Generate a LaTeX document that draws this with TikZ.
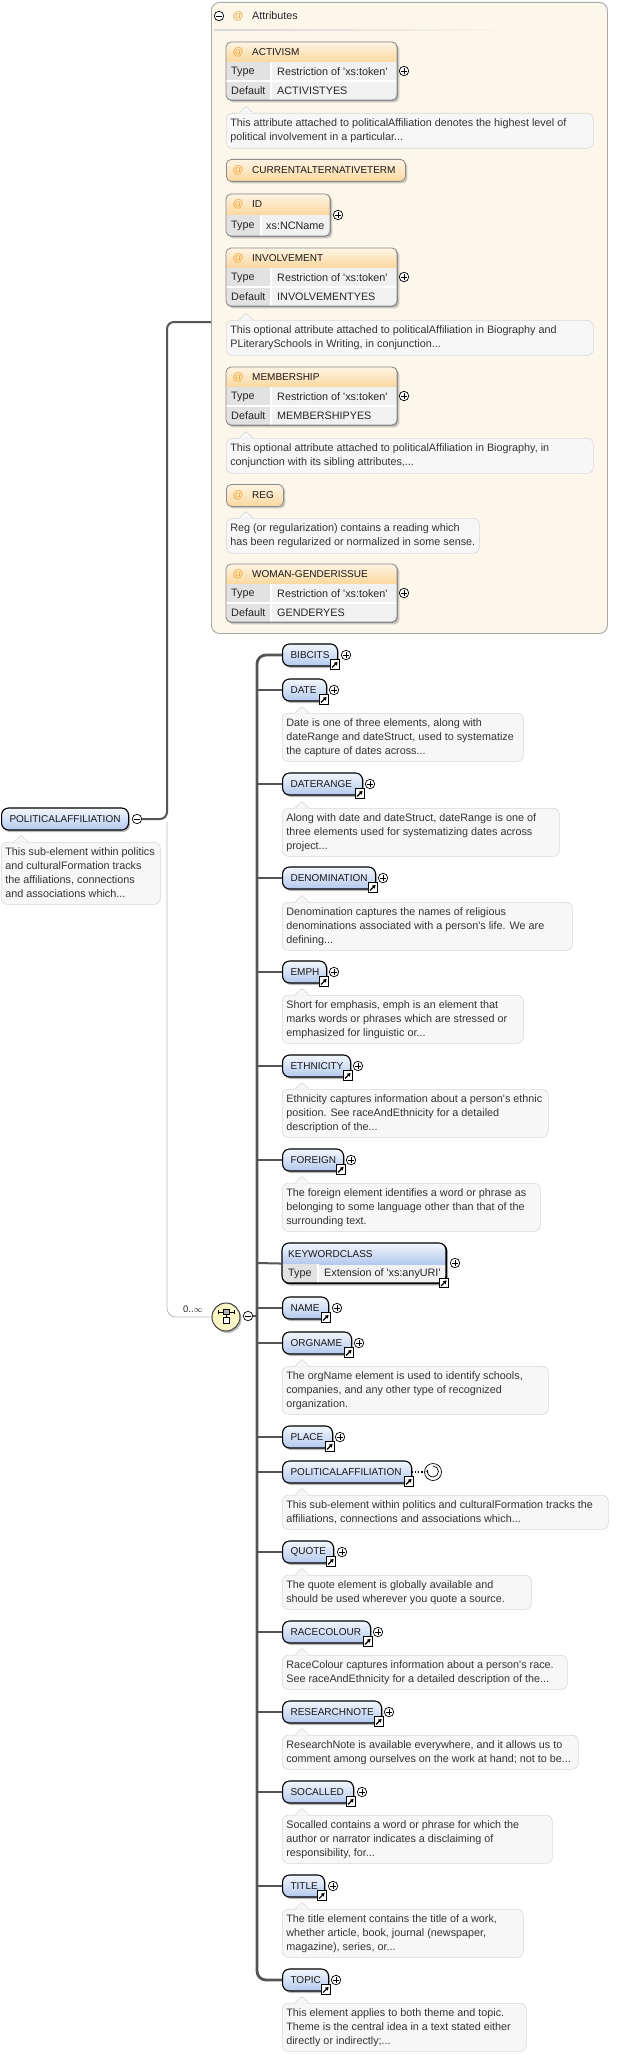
\documentclass[tikz,border=0pt]{standalone}
\usepackage{fontspec}
\setmainfont{Liberation Sans}
\usetikzlibrary{shadows,arrows.meta}
\definecolor{connc}{HTML}{555555}
\definecolor{thinc}{HTML}{BDBDBD}
\definecolor{elemtop}{HTML}{F3F7FD}
\definecolor{elembot}{HTML}{B3C9EE}
\definecolor{panelfill}{HTML}{FDF6EA}
\definecolor{panelborder}{HTML}{A8A8A8}
\definecolor{attrtop}{HTML}{FEF4E4}
\definecolor{attrbot}{HTML}{FBD89E}
\definecolor{attrborder}{HTML}{8A8A8A}
\definecolor{celllab}{HTML}{E2E2E2}
\definecolor{cellval}{HTML}{F1F1F1}
\definecolor{desctext}{HTML}{333333}
\definecolor{descborder}{HTML}{D8D8D8}
\definecolor{descfill}{HTML}{F7F7F7}
\definecolor{atcol}{HTML}{EFA42E}
\definecolor{seqfill}{HTML}{FBF6C6}
\newcommand\q{\textquotesingle}
\tikzset{
  elem/.style={draw=black, line width=1.1pt, rounded corners=7pt, top color=elemtop, bottom color=elembot,
    minimum height=22pt, inner xsep=8pt, inner ysep=0pt, anchor=west,
    font=\fontsize{10}{12}\selectfont, text=black!90,
    drop shadow={shadow xshift=1.5pt, shadow yshift=-2pt, fill=black!45, opacity=.6}},
  desc/.style={draw=descborder, line width=0.6pt, rounded corners=6pt, fill=descfill, anchor=north west,
    inner xsep=4pt, inner ysep=0pt, font=\fontsize{10.8}{14}\selectfont, text=desctext},
  linkbox/.style={draw=black, fill=white, line width=0.7pt, minimum size=9.5pt, inner sep=0pt},
  plusc/.style={circle, draw=black, fill=white, line width=0.7pt, minimum size=9.5pt, inner sep=0pt},
  attrb/.style={anchor=north west, draw=attrborder, line width=0.8pt, rounded corners=5pt, inner sep=0pt,
    fill=cellval, drop shadow={shadow xshift=2pt, shadow yshift=-2pt, fill=black!40, opacity=.5}},
  atsym/.style={text=atcol, font=\fontsize{10.8}{12}\selectfont, inner sep=0pt},
  attrname/.style={anchor=west, inner sep=0pt, font=\fontsize{10}{12}\selectfont, text=black!90},
  cell/.style={anchor=west, inner sep=0pt, font=\fontsize{10.8}{12}\selectfont, text=black!85},
  connline/.style={draw=connc, line width=2pt, rounded corners=7pt},
  branch/.style={draw=connc, line width=2pt},
  bar/.style={draw=connc, line width=2.8pt, rounded corners=9pt},
  thinline/.style={draw=thinc, line width=0.9pt, rounded corners=9pt}
}
\newcommand\plusat[3]{%
  \node[plusc] (#1) at (#2,#3) {};
  \draw[line width=0.8pt] ([xshift=-2.6pt]#1.center) -- ([xshift=2.6pt]#1.center)
    ([yshift=-2.6pt]#1.center) -- ([yshift=2.6pt]#1.center);}
\newcommand\minusat[3]{%
  \node[plusc] (#1) at (#2,#3) {};
  \draw[line width=0.8pt] ([xshift=-2.6pt]#1.center) -- ([xshift=2.6pt]#1.center);}
\newcommand\linkat[3]{%
  \node[linkbox] (#1) at (#2,#3) {};
  \draw[line width=1.1pt, -{Triangle[length=3.2pt,width=3.8pt]}]
    ([shift={(-2.9pt,-2.9pt)}]#1.center) -- ([shift={(2.6pt,2.6pt)}]#1.center);}
\newcommand\elem[4]{%
  \node[elem, minimum width={(#3-282)*1pt}] (#1) at (282,#2) {\makebox[\dimexpr#3pt-298pt\relax][l]{#4}};
  \linkat{#1-link}{#3-2}{#2+9.5}}
\newcommand\desc[6]{%
  \node[desc, minimum width={(#4-#2)*1pt}, minimum height=#5pt] (#1) at (#2,#3)
    {\makebox[\dimexpr#4pt-#2pt-8pt\relax][l]{\begin{tabular}{@{}l@{}}#6\end{tabular}}};
  \fill[descfill] (#2+13,#3+0.6) -- (#2+20,#3-6.5) -- (#2+27,#3+0.6) -- cycle;
  \draw[descborder, line width=0.6pt] (#2+13,#3) -- (#2+20,#3-6.5) -- (#2+27,#3);}
\newcommand\attrhead[4]{%
  \node[attrb, minimum width={(#3-226)*1pt}, minimum height=22pt, top color=attrtop, bottom color=attrbot] (#1) at (226,#2) {};
  \node[atsym] (#1-at) at (238,#2+11) {@};
  \node[attrname] (#1-name) at (252,#2+11) {#4};}
\newcommand\attrone[6]{%
  \node[attrb, minimum width={(#3-226)*1pt}, minimum height=42pt] (#1) at (226,#2) {};
  \begin{scope}
    \clip[rounded corners=5pt] (226,#2) rectangle (#3,#2+42);
    \shade[top color=attrtop, bottom color=attrbot] (226,#2) rectangle (#3,#2+21);
    \fill[celllab] (226,#2+21) rectangle (#4,#2+42);
    \fill[cellval] (#4,#2+21) rectangle (#3,#2+42);
    \draw[white, line width=1.2pt] (#4,#2+21) -- (#4,#2+42);
  \end{scope}
  \draw[attrborder, line width=0.8pt, rounded corners=5pt] (226,#2) rectangle (#3,#2+42);
  \node[atsym] (#1-at) at (238,#2+10.5) {@};
  \node[attrname] (#1-name) at (252,#2+10.5) {#5};
  \node[cell] (#1-tl) at (231,#2+31.5) {Type};
  \node[cell] (#1-tv) at (#4+5,#2+31.5) {#6};
  \plusat{#1-plus}{#3+8}{#2+21}}
\newcommand\attrtwo[7]{%
  \node[attrb, minimum width={(#3-226)*1pt}, minimum height=58pt] (#1) at (226,#2) {};
  \begin{scope}
    \clip[rounded corners=5pt] (226,#2) rectangle (#3,#2+58);
    \shade[top color=attrtop, bottom color=attrbot] (226,#2) rectangle (#3,#2+20);
    \fill[celllab] (226,#2+20) rectangle (#4,#2+58);
    \fill[cellval] (#4,#2+20) rectangle (#3,#2+58);
    \draw[white, line width=1.2pt] (226,#2+39) -- (#3,#2+39) (#4,#2+20) -- (#4,#2+58);
  \end{scope}
  \draw[attrborder, line width=0.8pt, rounded corners=5pt] (226,#2) rectangle (#3,#2+58);
  \node[atsym] (#1-at) at (238,#2+10) {@};
  \node[attrname] (#1-name) at (252,#2+10) {#5};
  \node[cell] (#1-tl) at (231,#2+29.5) {Type};
  \node[cell] (#1-tv) at (#4+6,#2+29.5) {#6};
  \node[cell] (#1-dl) at (231,#2+48.5) {Default};
  \node[cell] (#1-dv) at (#4+6,#2+48.5) {#7};
  \plusat{#1-plus}{#3+7}{#2+29}}
\begin{document}
\begin{tikzpicture}[x=1pt,y=-1pt]
\useasboundingbox (0,0) rectangle (632,2055);
\fill[white] (0,0) rectangle (632,2055);

% ---------- attributes panel ----------
\node[anchor=north west, draw=panelborder, fill=panelfill, line width=0.9pt, rounded corners=8pt,
  minimum width=396pt, minimum height=631pt, inner sep=0pt] (attrpanel) at (211,2) {};
\minusat{attr-minus}{219}{16}
\node[atsym] (attr-at) at (238,16) {@};
\node[cell] (attr-title) at (252,16) {Attributes};
\shade[left color=black!16, right color=panelfill] (214,29.6) rectangle (520,30.6);

\attrtwo{activism}{42}{397}{271}{ACTIVISM}{Restriction of \q xs:token\q}{ACTIVISTYES}
\desc{activism-desc}{226}{113}{593}{35}{This attribute attached to politicalAffiliation denotes the highest level of\\political involvement in a particular...}
\attrhead{curalt}{159}{405}{CURRENTALTERNATIVETERM}
\attrone{id}{194}{330}{261}{ID}{xs:NCName}
\attrtwo{involvement}{248}{397}{271}{INVOLVEMENT}{Restriction of \q xs:token\q}{INVOLVEMENTYES}
\desc{involvement-desc}{226}{320}{593}{35}{This optional attribute attached to politicalAffiliation in Biography and\\PLiterarySchools in Writing, in conjunction...}
\attrtwo{membership}{367}{397}{271}{MEMBERSHIP}{Restriction of \q xs:token\q}{MEMBERSHIPYES}
\desc{membership-desc}{226}{438}{593}{35}{This optional attribute attached to politicalAffiliation in Biography, in\\conjunction with its sibling attributes,...}
\attrhead{reg}{484}{283}{REG}
\desc{reg-desc}{226}{518}{479}{35}{Reg (or regularization) contains a reading which\\has been regularized or normalized in some sense.}
\attrtwo{woman}{564}{397}{271}{WOMAN-GENDERISSUE}{Restriction of \q xs:token\q}{GENDERYES}

% ---------- root ----------
\node[elem, minimum width=127pt] (root) at (1,819) {\makebox[111pt][l]{POLITICALAFFILIATION}};
\minusat{root-minus}{137}{819}
\desc{root-desc}{1}{842}{160}{62}{This sub-element within politics\\and culturalFormation tracks\\the affiliations, connections\\and associations which...}
\coordinate (pin) at (211,322);
\draw[connline] (root-minus.east) -- (167,819) -- (167,322) -- (pin);
\draw[thinline] (167,822) -- (167,1317) -- (212,1317);

% ---------- sequence ----------
\node[circle, draw=black!75, line width=1pt, fill=seqfill, minimum size=28pt, inner sep=0pt,
  drop shadow={shadow xshift=1.5pt, shadow yshift=-2pt, fill=black!45, opacity=.6}] (seq) at (226,1317) {};
\draw[line width=0.8pt] (218,1312) -- (234,1312) (218,1310) -- (218,1314) (234,1310) -- (234,1314);
\filldraw[fill=gray!60, draw=black, line width=0.6pt] (223,1309.3) rectangle (229,1314.3);
\draw[line width=0.6pt] (226,1314.3) -- (226,1317);
\filldraw[fill=white, draw=black, line width=0.6pt] (223,1317) rectangle (229,1323);
\node[inner sep=0pt, font=\fontsize{9.5}{11}\selectfont, text=black!85] (occ) at (193,1309) {0..$\infty$};
\minusat{seq-minus}{248}{1316}
\draw[branch] (seq-minus.east) -- (257,1316);

% ---------- children ----------
\elem{bibcits}{655}{337}{BIBCITS}\plusat{bibcits-plus}{346}{655}
\elem{date}{690}{326}{DATE}\plusat{date-plus}{334}{690}
\desc{date-desc}{282}{713}{523}{48}{Date is one of three elements, along with\\dateRange and dateStruct, used to systematize\\the capture of dates across...}
\elem{daterange}{784}{362}{DATERANGE}\plusat{daterange-plus}{370}{784}
\desc{daterange-desc}{282}{808}{559}{48}{Along with date and dateStruct, dateRange is one of\\three elements used for systematizing dates across\\project...}
\elem{denomination}{878}{375}{DENOMINATION}\plusat{denomination-plus}{383}{878}
\desc{denomination-desc}{282}{902}{572}{48}{Denomination captures the names of religious\\denominations associated with a person\q s life. We are\\defining...}
\elem{emph}{972}{326}{EMPH}\plusat{emph-plus}{334}{972}
\desc{emph-desc}{282}{995}{523}{48}{Short for emphasis, emph is an element that\\marks words or phrases which are stressed or\\emphasized for linguistic or...}
\elem{ethnicity}{1066}{350}{ETHNICITY}\plusat{ethnicity-plus}{358}{1066}
\desc{ethnicity-desc}{282}{1089}{548}{48}{Ethnicity captures information about a person\q s ethnic\\position. See raceAndEthnicity for a detailed\\description of the...}
\elem{foreign}{1160}{343}{FOREIGN}\plusat{foreign-plus}{351}{1160}
\desc{foreign-desc}{282}{1183}{540}{48}{The foreign element identifies a word or phrase as\\belonging to some language other than that of the\\surrounding text.}

% keywordclass
\node[anchor=north west, draw=black, line width=1.1pt, rounded corners=7pt, inner sep=0pt, fill=cellval,
  minimum width=164pt, minimum height=40pt,
  drop shadow={shadow xshift=1.5pt, shadow yshift=-2pt, fill=black!45, opacity=.6}] (keywordclass) at (282,1243) {};
\begin{scope}
  \clip[rounded corners=7pt] (282,1243) rectangle (446,1283);
  \shade[top color=elemtop, bottom color=elembot] (282,1243) rectangle (446,1264);
  \fill[celllab] (282,1264) rectangle (318,1283);
  \draw[white, line width=1.2pt] (318,1264) -- (318,1283);
\end{scope}
\draw[black, line width=1.1pt, rounded corners=7pt] (282,1243) rectangle (446,1283);
\node[attrname] (keywordclass-name) at (288,1254) {KEYWORDCLASS};
\node[cell] (keywordclass-tl) at (288,1274) {Type};
\node[cell] (keywordclass-tv) at (324,1274) {Extension of \q xs:anyURI\q};
\linkat{keywordclass-link}{444}{1283}
\plusat{keywordclass-plus}{455}{1263}

\elem{nameel}{1308}{328}{NAME}\plusat{nameel-plus}{337}{1308}
\elem{orgname}{1343}{351}{ORGNAME}\plusat{orgname-plus}{359}{1343}
\desc{orgname-desc}{282}{1366}{548}{48}{The orgName element is used to identify schools,\\companies, and any other type of recognized\\organization.}
\elem{place}{1437}{332}{PLACE}\plusat{place-plus}{340}{1437}
\elem{polaff}{1472}{411}{POLITICALAFFILIATION}
\node[plusc, minimum size=17pt] (polaff-rec) at (433,1472) {};
\draw[line width=0.7pt, -{Stealth[length=2.6pt,width=3pt]}] (433,1466) arc[start angle=90, end angle=-200, radius=5.5pt];
\draw[line width=1.1pt, dotted] (polaff.east) -- (polaff-rec.west);
\desc{polaff-desc}{282}{1495}{608}{34}{This sub-element within politics and culturalFormation tracks the\\affiliations, connections and associations which...}
\elem{quote}{1552}{333}{QUOTE}\plusat{quote-plus}{342}{1552}
\desc{quote-desc}{282}{1575}{531}{34}{The quote element is globally available and\\should be used wherever you quote a source.}
\elem{racecolour}{1632}{370}{RACECOLOUR}\plusat{racecolour-plus}{378}{1632}
\desc{racecolour-desc}{282}{1655}{567}{34}{RaceColour captures information about a person\q s race.\\See raceAndEthnicity for a detailed description of the...}
\elem{researchnote}{1712}{381}{RESEARCHNOTE}\plusat{researchnote-plus}{389}{1712}
\desc{researchnote-desc}{282}{1735}{578}{34}{ResearchNote is available everywhere, and it allows us to\\comment among ourselves on the work at hand; not to be...}
\elem{socalled}{1792}{353}{SOCALLED}\plusat{socalled-plus}{362}{1792}
\desc{socalled-desc}{282}{1815}{552}{48}{Socalled contains a word or phrase for which the\\author or narrator indicates a disclaiming of\\responsibility, for...}
\elem{title}{1886}{324}{TITLE}\plusat{title-plus}{333}{1886}
\desc{title-desc}{282}{1909}{523}{48}{The title element contains the title of a work,\\whether article, book, journal (newspaper,\\magazine), series, or...}
\elem{topic}{1980}{328}{TOPIC}\plusat{topic-plus}{336}{1980}
\desc{topic-desc}{282}{2003}{526}{48}{This element applies to both theme and topic.\\Theme is the central idea in a text stated either\\directly or indirectly;...}

% ---------- bar and branches ----------
\draw[bar] (bibcits.west) -- (257,655) -- (257,1980) -- (topic.west);
\foreach \n/\y in {date/690, daterange/784, denomination/878, emph/972, ethnicity/1066, foreign/1160,
  keywordclass/1263, nameel/1308, orgname/1343, place/1437, polaff/1472, quote/1552, racecolour/1632,
  researchnote/1712, socalled/1792, title/1886}
  \draw[branch] (257,\y) -- (\n.west);
\end{tikzpicture}
\end{document}
